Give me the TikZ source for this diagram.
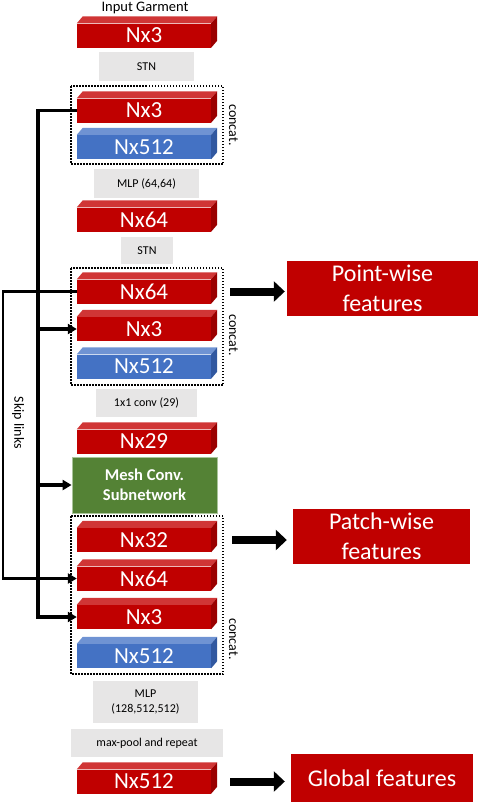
\documentclass[tikz,border=0pt]{standalone}
\usepackage{fontspec}
\setmainfont{Carlito}
\usetikzlibrary{arrows.meta, positioning}
\definecolor{barred}{HTML}{C00000}
\definecolor{barredtop}{HTML}{D03535}
\definecolor{barredside}{HTML}{9A0000}
\definecolor{barblue}{HTML}{4472C4}
\definecolor{barbluetop}{HTML}{6F93D3}
\definecolor{barblueside}{HTML}{3158A0}
\definecolor{meshgreen}{HTML}{548235}
\definecolor{meshedge}{HTML}{A9C49A}
\definecolor{opgray}{HTML}{E7E6E6}

\begin{document}
\begin{tikzpicture}[
    x=1pt, y=-1pt,
    >={Triangle[length=9pt,width=10pt]},
    bar/.style={rectangle, fill=barred, text=white, minimum width=134pt, minimum height=24pt, inner sep=0pt, font=\fontsize{23}{26}\selectfont},
    bluebar/.style={bar, fill=barblue},
    op/.style={rectangle, fill=opgray, inner sep=0pt, align=center, font=\fontsize{12}{14.5}\selectfont},
    mesh/.style={rectangle, fill=meshgreen, draw=meshedge, line width=0.8pt, text=white, align=center, inner sep=0pt, font=\bfseries\fontsize{16.5}{20}\selectfont},
    feat/.style={rectangle, fill=barred, text=white, inner sep=0pt, align=center, font=\fontsize{24}{30}\selectfont},
    catbox/.style={draw, line width=1.5pt, dash pattern=on 1.5pt off 1.5pt},
    catlabel/.style={rotate=-90, font=\fontsize{14}{16}\selectfont},
    skip/.style={line width=3.2pt},
    bigarrow/.style={line width=8pt, -{Triangle[length=11pt,width=20pt]}},
]
\useasboundingbox (0,0) rectangle (478,804);
% Layers
\node[anchor=base] (title) at (145,11.5) {\fontsize{14.5}{17}\selectfont Input Garment};
\node[bar] (in1) at (144,35.5) {Nx3};
\node[op, minimum width=95pt, minimum height=29pt] (stn1) at (146.5,66.5) {STN};
\node[bar] (cat1a) at (144,110.5) {Nx3};
\node[bluebar] (cat1b) at (144,147) {Nx512};
\node[op, minimum width=105pt, minimum height=29pt] (mlp1) at (146.5,183.5) {MLP (64,64)};
\node[bar] (f64) at (144,219.5) {Nx64};
\node[op, minimum width=52pt, minimum height=27pt] (stn2) at (147,250.5) {STN};
\node[bar] (cat2a) at (144,291.5) {Nx64};
\node[bar] (cat2b) at (144,329) {Nx3};
\node[bluebar] (cat2c) at (144,366.5) {Nx512};
\node[op, minimum width=101pt, minimum height=28pt] (conv1) at (146.5,403) {1x1 conv (29)};
\node[bar] (f29) at (144,441.5) {Nx29};
\node[mesh, minimum width=145pt, minimum height=56pt] (mesh) at (144.5,485) {Mesh Conv.\\Subnetwork};
\node[bar] (cat3a) at (144,540) {Nx32};
\node[bar] (cat3b) at (144,578.5) {Nx64};
\node[bar] (cat3c) at (144,617) {Nx3};
\node[bluebar] (cat3d) at (144,656) {Nx512};
\node[op, minimum width=105pt, minimum height=42pt] (mlp2) at (145.5,702) {MLP\\(128,512,512)};
\node[op, minimum width=152pt, minimum height=28pt] (pool) at (147,743) {max-pool and repeat};
\node[bar] (out512) at (144,781.5) {Nx512};
% 3D faces of the bars
\foreach \b in {in1,cat1a,f64,cat2a,cat2b,f29,cat3a,cat3b,cat3c,out512} {
  \fill[barredtop] (\b.north west) -- ++(6,-7) -- ([shift={(6,-7)}]\b.north east) -- (\b.north east) -- cycle;
  \fill[barredside] (\b.north east) -- ++(6,-7) -- ([shift={(6,-7)}]\b.south east) -- (\b.south east) -- cycle;
}
\foreach \b in {cat1b,cat2c,cat3d} {
  \fill[barbluetop] (\b.north west) -- ++(6,-7) -- ([shift={(6,-7)}]\b.north east) -- (\b.north east) -- cycle;
  \fill[barblueside] (\b.north east) -- ++(6,-7) -- ([shift={(6,-7)}]\b.south east) -- (\b.south east) -- cycle;
}
% Concat groups
\draw[catbox] (71,86) rectangle (223,164);
\draw[catbox] (71,268) rectangle (223,385);
\draw[catbox] (71,516) rectangle (223,674);
\node[catlabel] (cat1) at (233.5,125) {concat.};
\node[catlabel] (cat2) at (233.5,335) {concat.};
\node[catlabel] (cat3) at (233.5,639) {concat.};
% Outputs
\node[feat, minimum width=191pt, minimum height=55pt] (pw) at (382.5,288.5) {Point-wise\\features};
\node[feat, minimum width=177pt, minimum height=55pt] (pa) at (381.5,536.5) {Patch-wise\\features};
\node[feat, minimum width=182pt, minimum height=48pt] (gl) at (382,778) {Global features};
\draw[bigarrow, shorten >=2pt] ([xshift=19pt]cat2a.east) -- (cat2a.east -| pw.west);
\draw[bigarrow, shorten >=6pt] ([xshift=21pt]cat3a.east) -- (cat3a.east -| pa.west);
\draw[bigarrow, shorten >=6pt] ([xshift=19pt]out512.east) -- (out512.east -| gl.west);
% Skip links
\coordinate (spine) at (38,0);
\coordinate (outer) at (3,0);
\node[rotate=-90, font=\fontsize{14}{16}\selectfont] (skiplbl) at (18,423) {Skip links};
\draw[skip,->] (cat1a.west) -| (spine |- cat3c.west) -- (cat3c.west);
\draw[skip,->] (spine |- cat2b.west) -- (cat2b.west);
\draw[skip,->] (spine |- mesh.west) -- (mesh.west);
\draw[skip, line width=2.2pt, ->] (cat2a.west) -| (outer |- cat3b.west) -- (cat3b.west);
\end{tikzpicture}
\end{document}
